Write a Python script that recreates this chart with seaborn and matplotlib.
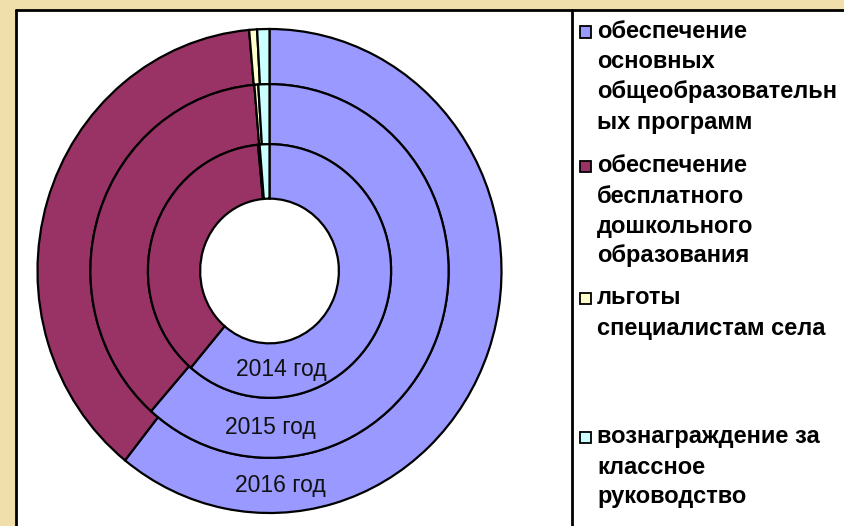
import matplotlib
matplotlib.use("Agg")
import matplotlib.pyplot as plt
from matplotlib.patches import Rectangle
from matplotlib.lines import Line2D
import numpy as np
import seaborn as sns

# data (shares in %)
years = ["2014 год", "2015 год", "2016 год"]
categories = [
    "обеспечение\nосновных\nобщеобразовательн\nых программ",
    "обеспечение\nбесплатного\nдошкольного\nобразования",
    "льготы\nспециалистам села",
    "вознаграждение за\nклассное\nруководство",
]
share_2014 = [61.2, 37.3, 0.2, 1.3]
share_2015 = [61.5, 37.15, 0.35, 1.0]
share_2016 = [60.7, 37.9, 0.55, 0.85]
colors = ["#9999FF", "#993366", "#FFFFCC", "#CCFFFF"]

sns.set_theme(style="white")
plt.rcParams["font.family"] = ["Liberation Sans", "DejaVu Sans"]

W, H = 844, 526
fig = plt.figure(figsize=(W / 100, H / 100), dpi=100)
fig.patch.set_facecolor("#f1dfab")


def fx(px):
    return px / W


def fy(py):
    return 1 - py / H


# white panel with black frame
fig.add_artist(Rectangle((fx(16), 0), 1 - fx(16), fy(9.5), transform=fig.transFigure,
                         facecolor="white", edgecolor="none", zorder=-2))
fig.add_artist(Line2D([fx(16), fx(16)], [0, fy(9.5)], transform=fig.transFigure,
                      color="black", lw=2, zorder=-1))
fig.add_artist(Line2D([fx(16), 1], [fy(9.5), fy(9.5)], transform=fig.transFigure,
                      color="black", lw=2, zorder=-1))
fig.add_artist(Line2D([fx(572), fx(572)], [0, fy(9.5)], transform=fig.transFigure,
                      color="black", lw=2, zorder=-1))

# donut
ax = fig.add_axes([0, 0, 1, 1])
ax.patch.set_alpha(0)

rings = [share_2016, share_2015, share_2014]
ring_labels = [years[2], years[1], years[0]]
outer = [1.0, 0.772, 0.524]
inner = [0.772, 0.524, 0.299]
label_ang = [-87, -89.5, -83]

for vals, r_out, r_in, lab, ang in zip(rings, outer, inner, ring_labels, label_ang):
    ax.pie(vals, radius=r_out, startangle=90, counterclock=False, colors=colors,
           wedgeprops=dict(width=r_out - r_in, edgecolor="black", linewidth=1.6))
    rm = (r_out + r_in) / 2
    ax.text(rm * np.cos(np.radians(ang)), rm * np.sin(np.radians(ang)), lab,
            ha="center", va="center", fontsize=16.5, color="#111111")

cx, cy, rx, ry = 269.5, 271, 232, 242
ax.set_aspect("auto")
ax.set_xlim(-cx / rx, (W - cx) / rx)
ax.set_ylim(-(H - cy) / ry, cy / ry)
ax.axis("off")

# legend
start_y = [32, 166, 298, 437]
for cat, col, y0 in zip(categories, colors, start_y):
    fig.add_artist(Rectangle((fx(580), fy(y0 + 5.5)), fx(11), 11 / H, transform=fig.transFigure,
                             facecolor=col, edgecolor="black", lw=1.3))
    for i, line in enumerate(cat.split("\n")):
        fig.text(fx(597), fy(y0 + 30 * i), line, ha="left", va="center",
                 fontsize=17, fontweight="bold", color="black")

fig.savefig("out.png", dpi=100)
